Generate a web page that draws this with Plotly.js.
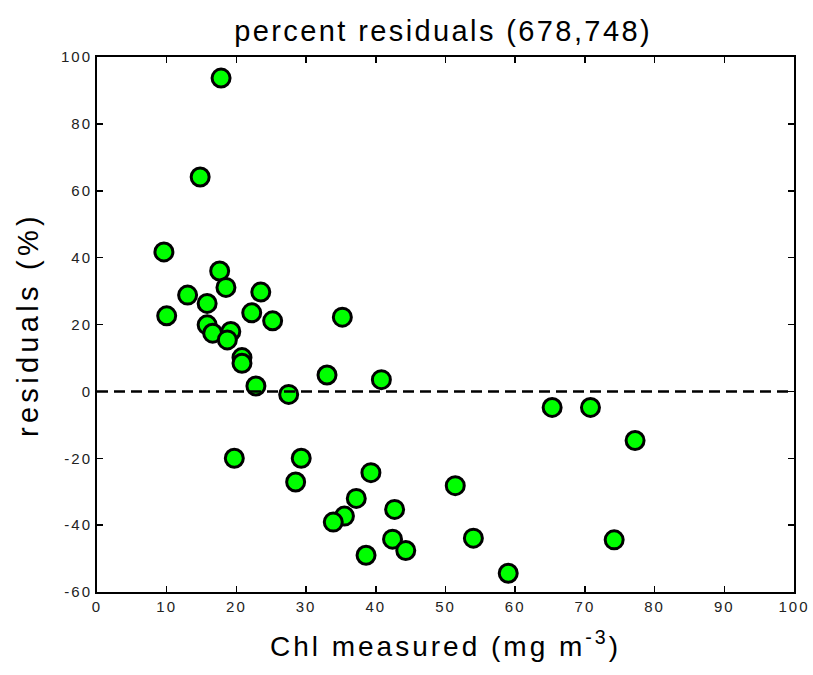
<!DOCTYPE html>
<html>
<head>
<meta charset="utf-8">
<script src="https://cdn.plot.ly/plotly-3.0.1.min.js"></script>
<style>
  body { margin:0; padding:0; background:#fff; }
  #chart { width:813px; height:675px; }
  .xtick text, .ytick text { letter-spacing: 2px; }
  .gtitle { letter-spacing: 2.4px; }
  .xtitle { letter-spacing: 3px; }
  .ytitle { letter-spacing: 4.3px; }
</style>
</head>
<body>
<div id="chart"></div>
<script>
// Chl measured (mg m^-3)
var chlMeasured = [17.8, 14.8, 9.6, 17.6, 18.5, 13.0, 15.8, 23.5, 22.2, 10.0,
                   25.2, 35.2, 15.8, 16.6, 19.2, 18.7, 20.8, 20.8, 22.8, 27.5,
                   33.0, 40.8, 19.7, 29.3, 28.5, 39.3, 37.2, 42.7, 35.5, 33.9,
                   42.4, 44.3, 38.6, 65.3, 70.8, 77.2, 51.4, 54.0, 74.2, 59.0];
// percent residuals (%)
var residuals = [93.7, 64.1, 41.7, 36.0, 31.1, 28.8, 26.3, 29.7, 23.5, 22.6,
                 21.1, 22.2, 19.9, 17.4, 17.9, 15.4, 10.1, 8.4, 1.6, -0.9,
                 4.9, 3.5, -20.0, -20.0, -27.1, -24.3, -32.0, -35.3, -37.3, -39.1,
                 -44.2, -47.6, -49.0, -4.8, -4.8, -14.7, -28.2, -43.9, -44.4, -54.4];
// zero reference line
var zeroLineX = [0, 100];
var zeroLineY = [0, 0];

var xTicks = [0, 10, 20, 30, 40, 50, 60, 70, 80, 90, 100];
var yTicks = [-60, -40, -20, 0, 20, 40, 60, 80, 100];

var traces = [
  {
    x: chlMeasured, y: residuals, type: 'scatter', mode: 'markers',
    marker: { size: 18, color: '#00ff00', line: { color: '#000000', width: 3 } },
    hoverinfo: 'x+y', showlegend: false
  },
  {
    x: zeroLineX, y: zeroLineY, type: 'scatter', mode: 'lines',
    line: { color: '#000000', width: 2.5, dash: '11px,6px' },
    hoverinfo: 'skip', showlegend: false
  }
];

var fontFam = 'Liberation Sans, Arial, sans-serif';
var layout = {
  width: 813, height: 675,
  margin: { l: 97, r: 19, t: 57, b: 83 },
  paper_bgcolor: '#ffffff', plot_bgcolor: '#ffffff',
  font: { family: fontFam, color: '#000000' },
  title: {
    text: 'percent residuals (678,748)',
    font: { family: fontFam, size: 29, color: '#000000' },
    x: 0.545, xanchor: 'center', xref: 'container',
    y: 0.955, yanchor: 'middle', yref: 'container'
  },
  xaxis: {
    range: [0, 100], tickvals: xTicks, ticktext: xTicks.map(String),
    ticks: 'inside', ticklen: 6, tickwidth: 1.5, tickcolor: '#000',
    showline: true, linecolor: '#000', linewidth: 2, mirror: 'ticks',
    showgrid: false, zeroline: false,
    tickfont: { family: fontFam, size: 15, color: '#222' },
    title: { text: 'Chl measured (mg m<sup>-3</sup>)', font: { family: fontFam, size: 28, color: '#000' }, standoff: 22 }
  },
  yaxis: {
    range: [-60, 100], tickvals: yTicks, ticktext: yTicks.map(String),
    ticks: 'inside', ticklen: 6, tickwidth: 1.5, tickcolor: '#000',
    showline: true, linecolor: '#000', linewidth: 2, mirror: 'ticks',
    showgrid: false, zeroline: false,
    tickfont: { family: fontFam, size: 15, color: '#222' },
    title: { text: 'residuals (%)', font: { family: fontFam, size: 29, color: '#000' }, standoff: 14 }
  }
};

Plotly.newPlot('chart', traces, layout, { displayModeBar: false, staticPlot: true });
</script>
</body>
</html>
